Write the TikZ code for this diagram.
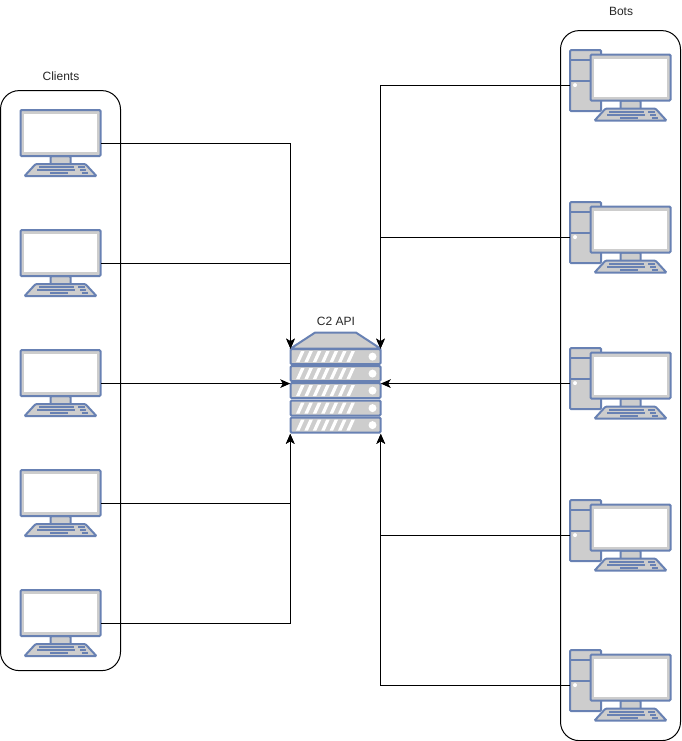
\documentclass[tikz,border=0pt]{standalone}
\usepackage{fontspec}
\setmainfont{Liberation Sans}
\usetikzlibrary{arrows.meta}
\definecolor{pcblue}{HTML}{6881B3}
\definecolor{pcgray}{HTML}{CDCDCD}
\tikzset{
  group/.style={shape=rectangle,draw=black,line width=0.75pt,rounded corners=14pt,inner sep=0pt},
  grouplabel/.style={font=\fontsize{9}{11}\selectfont,text=black!85,inner sep=0pt},
  pcbox/.style={shape=rectangle,inner sep=0pt,minimum width=60.75pt,minimum height=49.5pt},
  botbox/.style={shape=rectangle,inner sep=0pt,minimum width=75.75pt,minimum height=53.25pt},
  apibox/.style={shape=rectangle,inner sep=0pt,minimum width=67.5pt,minimum height=75pt},
  part/.style={draw=pcblue,fill=pcgray,line width=1.5pt,rounded corners=0.8pt},
  key/.style={draw=pcblue,line width=1.4pt},
  link/.style={draw=black,line width=0.75pt,-{Stealth[length=7.5pt,width=6.5pt,inset=2pt]}},
  pics/client/.style={code={
    \draw[part] (-10,12.5) rectangle (10,21.5);
    \draw[part] (-25,20.5) -- (25,20.5) -- (36,32.5) -- (-36,32.5) -- cycle;
    \draw[key] (-21.5,23.5) -- (13.5,23.5);
    \draw[key] (17.5,23.5) -- (24.5,23.5);
    \draw[key] (-23.5,26.5) -- (14.5,26.5);
    \draw[key] (19.5,26.5) -- (25.5,26.5);
    \draw[key] (-10.5,29.5) -- (7.5,29.5);
    \draw[key] (21.5,29.5) -- (27.5,29.5);
    \draw[part] (-40,-33.5) rectangle (40,12.5);
    \fill[white] (-37,-30.5) rectangle (37,9.5);
    \draw[pcgray,line width=1.4pt] (-37,-30.5) rectangle (37,9.5);
  }},
  pics/bot/.style={code={
    \draw[part] (-50.5,-35.5) rectangle (-19.5,25.5);
    \draw[part] (-50.5,-25.5) -- (-19.5,-25.5);
    \draw[part] (-50.5,-4.5) -- (-19.5,-4.5);
    \fill[white] (-45.5,-0.5) circle (2);
    \pic at (10,2.5) {client};
  }},
  pics/rack/.style={code={
    \draw[part] (-45,-7.5) rectangle (45,7.5);
    \foreach \s in {0,...,6}
      \fill[white] (-39.5+8.4*\s,5.5) -- (-36+8.4*\s,5.5) -- (-31+8.4*\s,-5.5) -- (-34.5+8.4*\s,-5.5) -- cycle;
    \fill[white] (37,0) circle (4);
  }},
  pics/api/.style={code={
    \draw[part,rounded corners=0pt,line join=round] (-20.5,-51) -- (20.5,-51) -- (45,-35) -- (-45,-35) -- cycle;
    \pic at (0,-27) {rack};
    \pic at (0,-10) {rack};
    \pic at (0,7) {rack};
    \pic at (0,24.5) {rack};
    \pic at (0,41.5) {rack};
  }}
}
\begin{document}
\begin{tikzpicture}[x=0.75pt,y=-0.75pt]
\useasboundingbox (0,-0.6) rectangle (681,740.4);
\node[group,minimum width=90pt,minimum height=435pt] (clients) at (60.5,380) {};
\node[group,minimum width=90pt,minimum height=532.5pt] (bots) at (620.5,385) {};
\node[grouplabel] (clientsLabel) at (61,75.5) {Clients};
\node[grouplabel] (botsLabel) at (621,10.5) {Bots};
\node[grouplabel] (apiLabel) at (336,320.5) {C2 API};

\node[pcbox] (C1) at (60.5,143) {};
\node[pcbox] (C2) at (60.5,263) {};
\node[pcbox] (C3) at (60.5,383) {};
\node[pcbox] (C4) at (60.5,503) {};
\node[pcbox] (C5) at (60.5,623) {};
\pic at (C1) {client};
\pic at (C2) {client};
\pic at (C3) {client};
\pic at (C4) {client};
\pic at (C5) {client};

\node[botbox] (B1) at (620.5,85) {};
\node[botbox] (B2) at (620.5,237) {};
\node[botbox] (B3) at (620.5,383) {};
\node[botbox] (B4) at (620.5,535) {};
\node[botbox] (B5) at (620.5,685) {};
\pic at (B1) {bot};
\pic at (B2) {bot};
\pic at (B3) {bot};
\pic at (B4) {bot};
\pic at (B5) {bot};

\node[apibox] (API) at (335.5,383) {};
\pic at (API) {api};
\coordinate (APIleft) at (290.5,348);
\coordinate (APIright) at (380.5,348);

\draw[link] (C1.east) -| (APIleft);
\draw[link] (C2.east) -| (APIleft);
\draw[link] (C3.east) -- (API.west);
\draw[link] (C4.east) -| (API.south west);
\draw[link] (C5.east) -| (API.south west);
\draw[link] (B1.west) -| (APIright);
\draw[link] (B2.west) -| (APIright);
\draw[link] (B3.west) -- (API.east);
\draw[link] (B4.west) -| (API.south east);
\draw[link] (B5.west) -| (API.south east);
\end{tikzpicture}
\end{document}
